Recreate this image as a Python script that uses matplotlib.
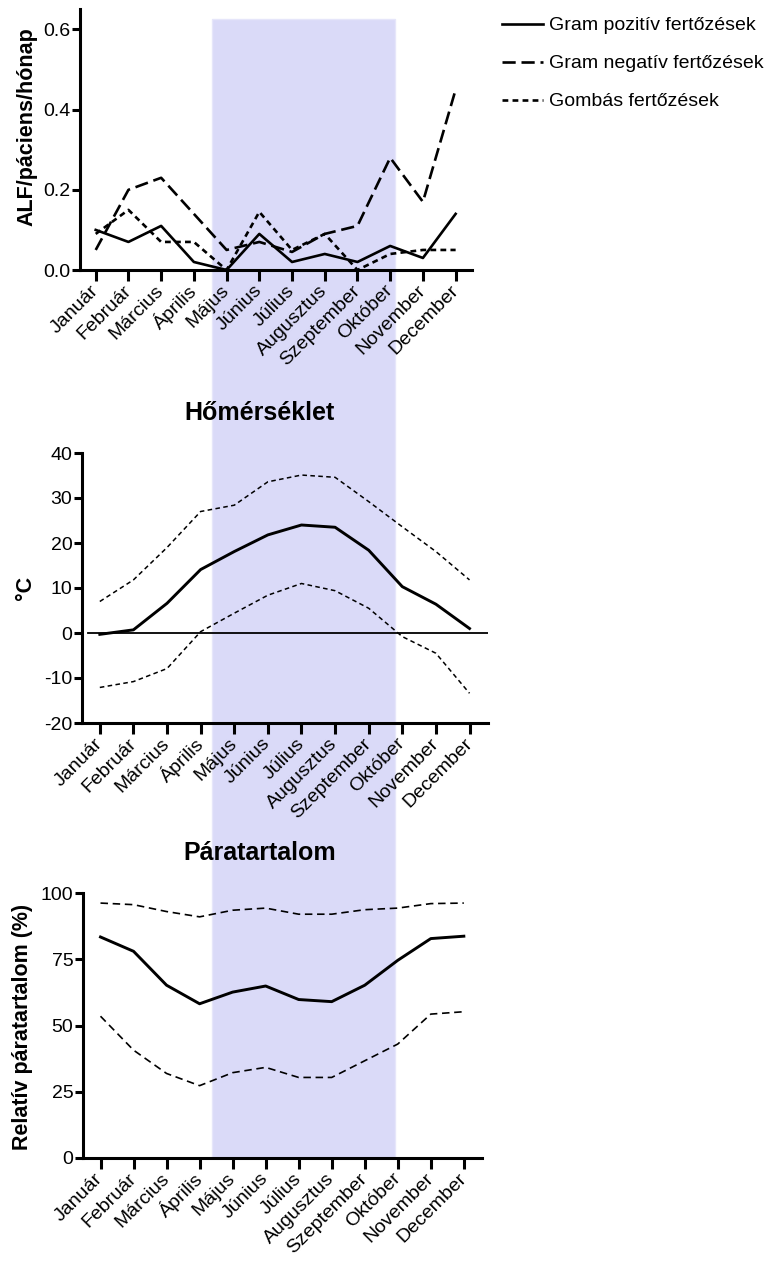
import matplotlib
matplotlib.use("Agg")
import matplotlib.pyplot as plt
from matplotlib.patches import Rectangle

plt.rcParams["font.family"] = ["Liberation Sans", "DejaVu Sans"]
plt.rcParams["axes.unicode_minus"] = False

# ── adatok ────────────────────────────────────────────────────────────────
honapok = ["Január", "Február", "Március", "Április", "Május", "Június",
           "Július", "Augusztus", "Szeptember", "Október", "November", "December"]

gram_pozitiv = [0.10, 0.07, 0.11, 0.02, 0.00, 0.09, 0.02, 0.04, 0.02, 0.06, 0.03, 0.14]
gram_negativ = [0.05, 0.20, 0.23, 0.14, 0.05, 0.07, 0.045, 0.09, 0.11, 0.28, 0.17, 0.45]
gombas = [0.09, 0.15, 0.07, 0.07, 0.00, 0.145, 0.05, 0.09, 0.00, 0.04, 0.05, 0.05]

hom_atlag = [-0.3, 0.7, 6.6, 14.1, 18.1, 21.8, 24.0, 23.5, 18.4, 10.3, 6.4, 1.0]
hom_max = [7.0, 11.8, 19.0, 27.0, 28.4, 33.6, 35.1, 34.6, 29.2, 23.6, 18.1, 11.8]
hom_min = [-12.1, -10.8, -7.9, 0.3, 4.4, 8.4, 11.0, 9.4, 5.5, -0.8, -4.5, -13.4]

para_atlag = [83.4, 78.0, 65.2, 58.2, 62.6, 64.9, 59.8, 59.0, 65.2, 74.6, 82.8, 83.7]
para_max = [96.2, 95.6, 93.0, 91.0, 93.5, 94.3, 92.0, 92.0, 93.7, 94.3, 96.0, 96.2]
para_min = [53.5, 40.7, 31.9, 27.3, 32.2, 34.2, 30.4, 30.4, 36.7, 43.0, 54.3, 55.2]

W, H = 773, 1263
fig = plt.figure(figsize=(W / 100, H / 100), dpi=100)

TICK_FS = 14


def px_axes(left, top, right, bottom):
    ax = fig.add_axes([left / W, 1 - bottom / H, (right - left) / W, (bottom - top) / H])
    ax.set_facecolor("none")
    for s in ["top", "right"]:
        ax.spines[s].set_visible(False)
    for s in ["left", "bottom"]:
        ax.spines[s].set_linewidth(2.2)
    ax.tick_params(axis="both", width=2.2, colors="black", labelsize=TICK_FS)
    ax.tick_params(axis="y", length=6, pad=1)
    ax.tick_params(axis="x", length=8, pad=5)
    ax.set_xticks(list(range(len(honapok))))
    ax.set_xticklabels(honapok, rotation=45, ha="right", va="center",
                       rotation_mode="anchor")
    return ax


x = list(range(len(honapok)))

# nyári időszak kiemelése (mindhárom panelen át)
fig.add_artist(Rectangle((212 / W, 1 - 1158 / H), (395 - 212) / W, (1158 - 19) / H,
                         transform=fig.transFigure, facecolor="#DADAF8",
                         edgecolor="#E6E6FA", linewidth=1, zorder=-1))

# ── 1. panel: fertőzések ─────────────────────────────────────────────────
ax1 = px_axes(80, 9.4, 472, 270)
ax1.plot(x, gram_pozitiv, color="black", lw=1.9, label="Gram pozitív fertőzések")
ax1.plot(x, gram_negativ, color="black", lw=1.9, dashes=(5, 2.2),
         label="Gram negatív fertőzések")
ax1.plot(x, gombas, color="black", lw=1.9, dashes=(2.2, 1.6),
         label="Gombás fertőzések")
ax1.set_xlim(-0.48, 11.5)
ax1.set_ylim(0, 0.65)
ax1.set_yticks([0.0, 0.2, 0.4, 0.6])
ax1.set_yticklabels(["0.0", "0.2", "0.4", "0.6"])

fig.legend(loc="upper left", bbox_to_anchor=(494 / W, 1 - 9 / H),
           frameon=False, fontsize=14, handlelength=2.1, handletextpad=0.35,
           labelspacing=1.05, borderaxespad=0)
fig.text(27 / W, 1 - 127 / H, "ALF/páciens/hónap", rotation=90, ha="center",
         va="center", fontsize=15.5, fontweight="bold")

# ── 2. panel: hőmérséklet ───────────────────────────────────────────────
ax2 = px_axes(82, 453, 488, 723)
ax2.axhline(0, xmin=0.015, xmax=1, color="black", lw=1.3)
ax2.plot(x, hom_atlag, color="black", lw=2.1)
ax2.plot(x, hom_max, color="black", lw=1.1, dashes=(3, 2.2))
ax2.plot(x, hom_min, color="black", lw=1.1, dashes=(3, 2.2))
ax2.set_xlim(-0.53, 11.55)
ax2.set_ylim(-20, 40)
ax2.set_yticks([-20, -10, 0, 10, 20, 30, 40])
fig.text(260 / W, 1 - 413 / H, "Hőmérséklet", ha="center", va="center",
         fontsize=18, fontweight="bold")
fig.text(25 / W, 1 - 588 / H, "°C", rotation=90, ha="center", va="center",
         fontsize=15.5, fontweight="bold")

# ── 3. panel: páratartalom ──────────────────────────────────────────────
ax3 = px_axes(83, 893, 482, 1158)
ax3.plot(x, para_atlag, color="black", lw=2.1)
ax3.plot(x, para_max, color="black", lw=1.2, dashes=(4.5, 2.8))
ax3.plot(x, para_min, color="black", lw=1.2, dashes=(4.5, 2.8))
ax3.set_xlim(-0.53, 11.55)
ax3.set_ylim(0, 100)
ax3.set_yticks([0, 25, 50, 75, 100])
fig.text(260 / W, 1 - 853 / H, "Páratartalom", ha="center", va="center",
         fontsize=18, fontweight="bold")
fig.text(23 / W, 1 - 1027 / H, "Relatív páratartalom (%)", rotation=90,
         ha="center", va="center", fontsize=15.5, fontweight="bold")

fig.savefig("out.png", dpi=100, facecolor="white")
